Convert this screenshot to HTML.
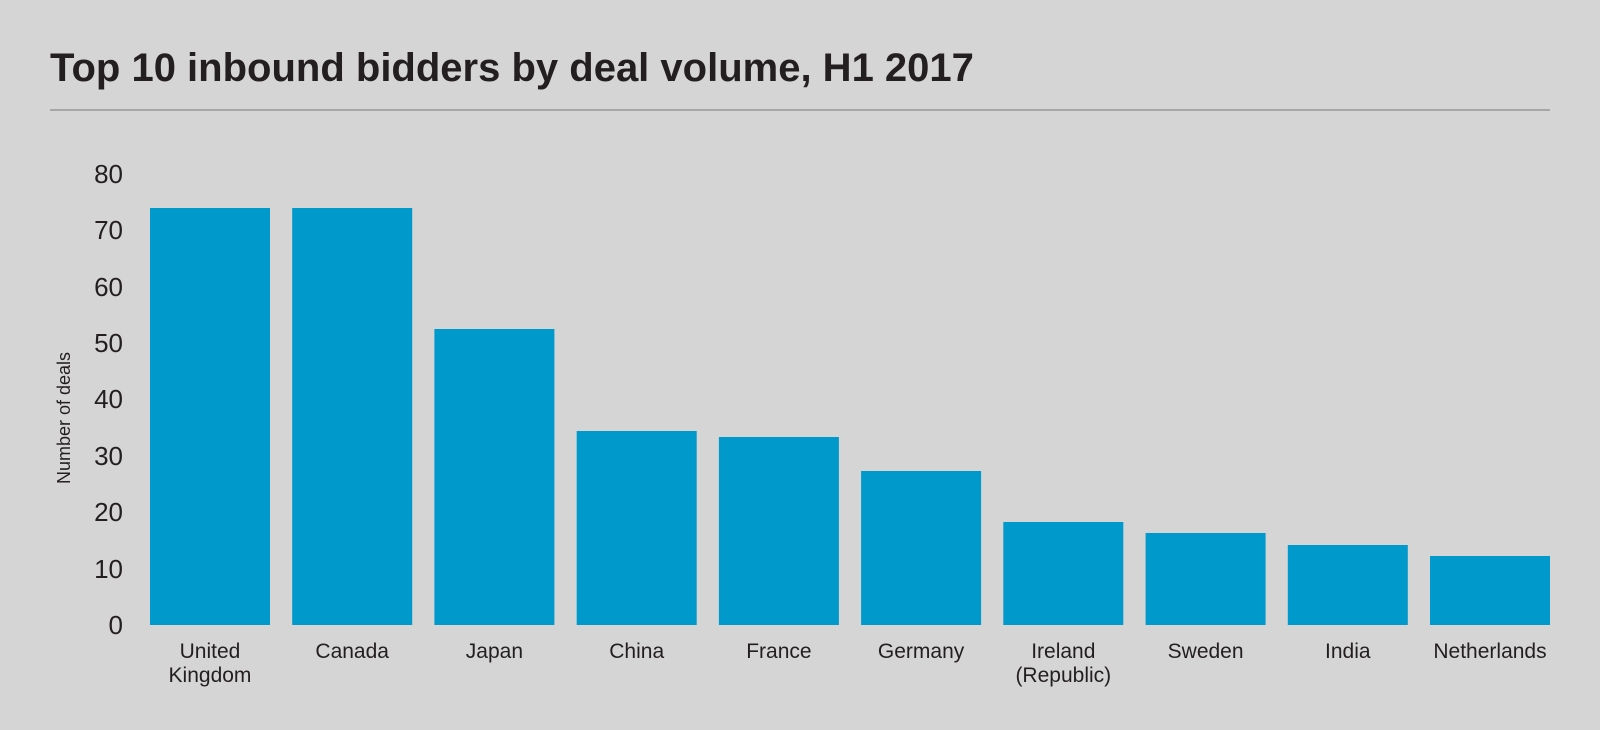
<!DOCTYPE html>
<html><head><meta charset="utf-8"><style>
body{margin:0;background:#d5d5d5;}
svg{display:block;font-family:"Liberation Sans",sans-serif;}
</style></head><body>
<svg width="1600" height="730" viewBox="0 0 1600 730">
<rect width="1600" height="730" fill="#d5d5d5"/>
<text x="50" y="81" font-size="40" font-weight="bold" fill="#231f20">Top 10 inbound bidders by deal volume, H1 2017</text>
<rect x="50" y="109" width="1500" height="2" fill="#a6a6a6"/>
<g font-size="26" fill="#231f20" text-anchor="end">
<text x="123" y="183">80</text><text x="123" y="239">70</text><text x="123" y="296">60</text><text x="123" y="352">50</text><text x="123" y="408">40</text><text x="123" y="465">30</text><text x="123" y="521">20</text><text x="123" y="578">10</text><text x="123" y="634">0</text>
</g>
<text transform="translate(70,418) rotate(-90)" font-size="18" fill="#231f20" text-anchor="middle">Number of deals</text>
<g fill="#0099cc">
<rect x="150" y="208" width="120" height="417"/>
<rect x="292.2" y="208" width="120" height="417"/>
<rect x="434.4" y="329" width="120" height="296"/>
<rect x="576.7" y="431" width="120" height="194"/>
<rect x="718.9" y="437" width="120" height="188"/>
<rect x="861.1" y="471" width="120" height="154"/>
<rect x="1003.3" y="522" width="120" height="103"/>
<rect x="1145.6" y="533" width="120" height="92"/>
<rect x="1287.8" y="545" width="120" height="80"/>
<rect x="1430" y="556" width="120" height="69"/>
</g>
<g font-size="21" fill="#231f20" text-anchor="middle">
<text x="210" y="658">United</text><text x="210" y="682">Kingdom</text>
<text x="352.2" y="658">Canada</text>
<text x="494.4" y="658">Japan</text>
<text x="636.7" y="658">China</text>
<text x="778.9" y="658">France</text>
<text x="921.1" y="658">Germany</text>
<text x="1063.3" y="658">Ireland</text><text x="1063.3" y="682">(Republic)</text>
<text x="1205.6" y="658">Sweden</text>
<text x="1347.8" y="658">India</text>
<text x="1490" y="658">Netherlands</text>
</g>
</svg>
</body></html>
